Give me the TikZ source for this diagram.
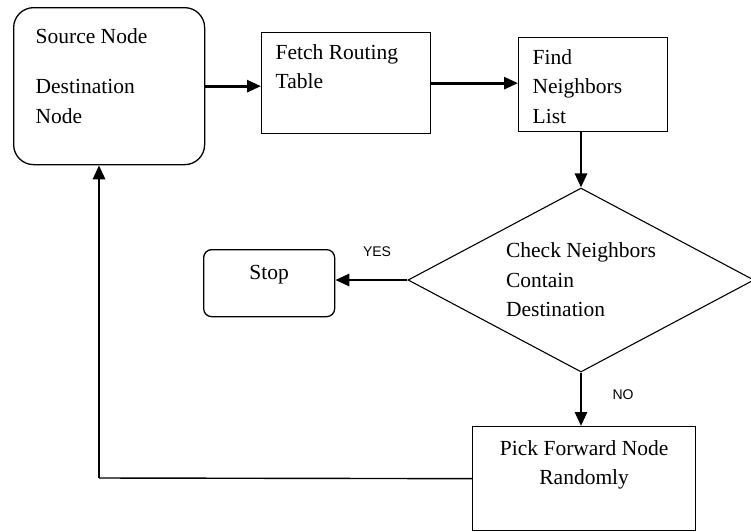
\documentclass[tikz,border=0pt]{standalone}
\usepackage{fontspec}
\setmainfont{Liberation Serif}
\newfontfamily\labelfont{Liberation Sans}
\usetikzlibrary{shapes.geometric,arrows.meta}

\tikzset{
  flowbox/.style={draw, line width=1.3pt, anchor=north west, text height=14.7pt,
    font=\fontsize{21.5}{29.5}\selectfont},
  flowarrow/.style={line width=2.8pt, -{Triangle[length=14pt,width=12pt]}},
  choice/.style={draw, diamond, line width=1.1pt, aspect=1.88, minimum width=346pt,
    minimum height=184pt, inner sep=0pt, align=left, font=\fontsize{21.5}{29.5}\selectfont},
  answer/.style={font=\labelfont\fontsize{14}{16}\selectfont}
}

\begin{document}
\begin{tikzpicture}[x=1pt,y=-1pt]
       \useasboundingbox (0,0) rectangle (751,531);
       % boxes
       \node[flowbox, rounded corners=20pt, inner xsep=22pt, inner ysep=21pt, text depth=100.3pt] (src) at (13,7)
         {\parbox[t]{147pt}{Source Node\\[21pt]Destination\\Node}};
       \node[flowbox, inner xsep=14pt, inner ysep=12pt, text depth=62.3pt] (fetch) at (261,32)
         {\parbox[t]{141pt}{Fetch Routing\\Table}};
       \node[flowbox, inner xsep=14pt, inner ysep=12pt, text depth=55.3pt] (find) at (518,37)
         {\parbox[t]{121pt}{Find\\Neighbors\\List}};
       \node[choice] (chk) at (581,280) {Check Neighbors\\Contain\\Destination};
       \node[flowbox, rounded corners=8pt, inner xsep=12pt, inner ysep=15pt, text depth=22.3pt] (stop) at (203,249)
         {\parbox[t]{107pt}{\centering Stop}};
       \node[flowbox, inner xsep=12pt, inner ysep=14pt, text depth=61.3pt] (pick) at (472,426)
         {\parbox[t]{199pt}{\centering Pick Forward Node\\Randomly}};
       % labels
       \node[answer] (yes) at (377,252) {YES};
       \node[answer] (no) at (623,395) {NO};
       % connectors
       \draw[flowarrow] (src.east) -- (src.east -| fetch.west);
       \draw[flowarrow] (fetch.east) -- (fetch.east -| find.west);
       \draw[flowarrow] (find.south -| chk.north) -- (chk.north);
       \draw[flowarrow] (chk.west) -- (chk.west -| stop.east);
       \draw[flowarrow] (chk.south) -- (chk.south |- pick.north);
       \coordinate (bend) at (99,478);
       \draw[line width=1.4pt] (pick.west) -- (bend);
       \draw[flowarrow] (bend) -- (bend |- src.south);
     \end{tikzpicture}
\end{document}
